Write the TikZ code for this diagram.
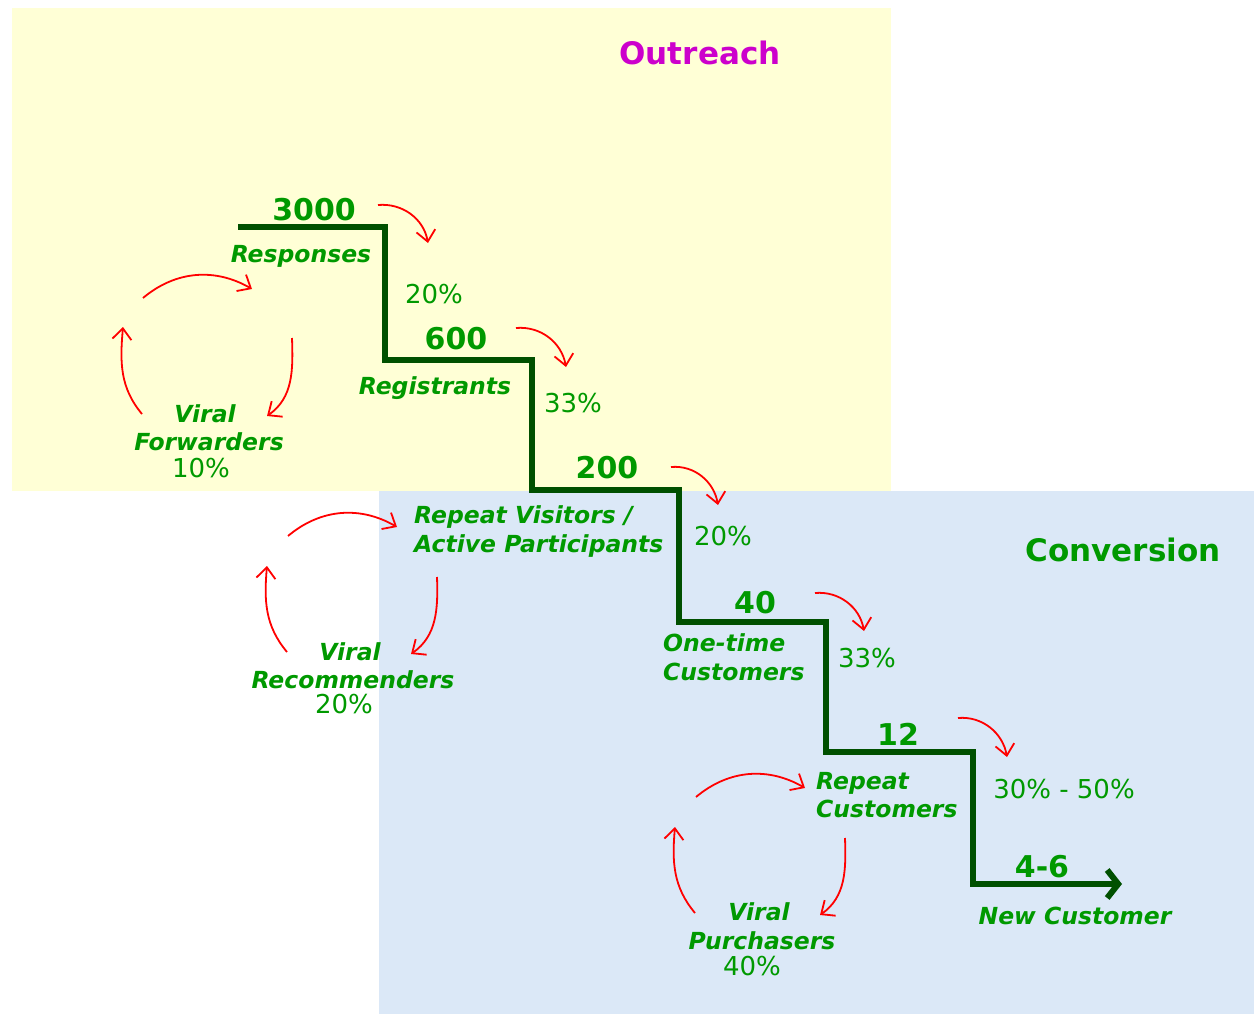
\documentclass[tikz,border=0pt]{standalone}
\usepackage{fontspec}
\setmainfont{DejaVu Sans}
\usetikzlibrary{arrows.meta}
\definecolor{outback}{RGB}{255,255,214}
\definecolor{convback}{RGB}{219,232,247}
\definecolor{stepgreen}{RGB}{0,80,0}
\definecolor{textgreen}{RGB}{0,153,0}
\definecolor{titlemag}{RGB}{204,0,204}
\begin{document}
\begin{tikzpicture}[x=1pt, y=-1pt,
    stair/.style={line width=6pt, draw=stepgreen},
    loopy/.style={draw=red, line width=1.8pt, -{Straight Barb[length=11pt,width=19pt]}},
    countnum/.style={anchor=base, inner sep=0pt, text=textgreen, font=\fontsize{30}{32}\selectfont\bfseries},
    stagelbl/.style={anchor=base, inner sep=0pt, text=textgreen, font=\fontsize{23.5}{26}\selectfont\bfseries\itshape},
    ratelbl/.style={anchor=base, inner sep=0pt, text=textgreen, font=\fontsize{26}{28}\selectfont},
    titlelbl/.style={anchor=base, inner sep=0pt, text=textgreen, font=\fontsize{31}{33}\selectfont\bfseries}]
    \useasboundingbox (0,0) rectangle (1254,1014);
    \fill[outback] (12,8) rectangle (891,491);
    \fill[convback] (379,491) rectangle (1254,1014);
    \node[titlelbl, text=titlemag] (outreach) at (700,65) {Outreach};
    \node[titlelbl] (conversion) at (1123,561) {Conversion};
    % the steps
    \coordinate (st0) at (238,227);
    \coordinate (st1) at (385,227);
    \coordinate (st2) at (385,360);
    \coordinate (st3) at (532,360);
    \coordinate (st4) at (532,490);
    \coordinate (st5) at (679,490);
    \coordinate (st6) at (679,622);
    \coordinate (st7) at (826,622);
    \coordinate (st8) at (826,752);
    \coordinate (st9) at (973,752);
    \coordinate (st10) at (973,884);
    \coordinate (st11) at (1122,884);
    \draw[stair, -{Straight Barb[length=11pt,width=28pt]}] (st0) -- (st1) -- (st2) -- (st3) -- (st4) -- (st5)
        -- (st6) -- (st7) -- (st8) -- (st9) -- (st10) -- (st11);
    \node[countnum] (n3000) at (314,220) {3000};
    \node[countnum] (n600) at (456,349) {600};
    \node[countnum] (n200) at (607,478) {200};
    \node[countnum] (n40) at (755,613) {40};
    \node[countnum] (n12) at (898,745) {12};
    \node[countnum] (n46) at (1042,877) {4-6};
    \node[stagelbl] (resp) at (301,262) {Responses};
    \node[stagelbl] (regs) at (435,394) {Registrants};
    \node[stagelbl, anchor=base west] (visit) at (414,523) {Repeat Visitors /};
    \node[stagelbl, anchor=base west] (active) at (414,552) {Active Participants};
    \node[stagelbl, anchor=base west] (onetime) at (663,651) {One-time};
    \node[stagelbl, anchor=base west] (onecust) at (663,680) {Customers};
    \node[stagelbl, anchor=base west] (repeat) at (816,789) {Repeat};
    \node[stagelbl, anchor=base west] (repcust) at (816,817) {Customers};
    \node[stagelbl] (newcust) at (1075,924) {New Customer};
    \node[ratelbl] (r1) at (434,303) {20\%};
    \node[ratelbl] (r2) at (573,412) {33\%};
    \node[ratelbl] (r3) at (723,545) {20\%};
    \node[ratelbl] (r4) at (867,667) {33\%};
    \node[ratelbl] (r5) at (1064,798) {30\% - 50\%};
    % drop arrows
    \coordinate (da1) at (378,205);  \coordinate (db1) at (428,243);
    \coordinate (da2) at (516,328);  \coordinate (db2) at (566,367);
    \coordinate (da3) at (671,467);  \coordinate (db3) at (718,505);
    \coordinate (da4) at (815,593);  \coordinate (db4) at (864,631);
    \coordinate (da5) at (958,718);  \coordinate (db5) at (1007,757);
    \draw[loopy] (da1) to[out=5, in=100] (db1);
    \draw[loopy] (da2) to[out=5, in=100] (db2);
    \draw[loopy] (da3) to[out=5, in=100] (db3);
    \draw[loopy] (da4) to[out=5, in=100] (db4);
    \draw[loopy] (da5) to[out=5, in=100] (db5);
    % viral loops
    \node[stagelbl] (fwv) at (205,422) {Viral};
    \node[stagelbl] (fwd) at (209,450) {Forwarders};
    \node[ratelbl] (fwp) at (201,477) {10\%};
    \coordinate (fa1) at (143,298); \coordinate (fb1) at (252,289);
    \coordinate (fa2) at (292,338); \coordinate (fb2) at (267,416);
    \coordinate (fa3) at (142,414); \coordinate (fb3) at (123,327);
    \draw[loopy] (fa1) to[out=40, in=150] (fb1);
    \draw[loopy] (fa2) to[out=-88, in=35] (fb2);
    \draw[loopy] (fa3) to[out=130, in=-95] (fb3);
    \node[stagelbl] (rcv) at (350,660) {Viral};
    \node[stagelbl] (rcm) at (353,688) {Recommenders};
    \node[ratelbl] (rcp) at (344,713) {20\%};
    \coordinate (ra1) at (288,536); \coordinate (rb1) at (397,527);
    \coordinate (ra2) at (437,577); \coordinate (rb2) at (411,654);
    \coordinate (ra3) at (287,652); \coordinate (rb3) at (267,566);
    \draw[loopy] (ra1) to[out=40, in=150] (rb1);
    \draw[loopy] (ra2) to[out=-88, in=35] (rb2);
    \draw[loopy] (ra3) to[out=130, in=-95] (rb3);
    \node[stagelbl] (puv) at (759,920) {Viral};
    \node[stagelbl] (pur) at (762,949) {Purchasers};
    \node[ratelbl] (pup) at (752,975) {40\%};
    \coordinate (pa1) at (696,797); \coordinate (pb1) at (805,788);
    \coordinate (pa2) at (845,838); \coordinate (pb2) at (820,915);
    \coordinate (pa3) at (695,913); \coordinate (pb3) at (675,827);
    \draw[loopy] (pa1) to[out=40, in=150] (pb1);
    \draw[loopy] (pa2) to[out=-88, in=35] (pb2);
    \draw[loopy] (pa3) to[out=130, in=-95] (pb3);
\end{tikzpicture}
\end{document}
